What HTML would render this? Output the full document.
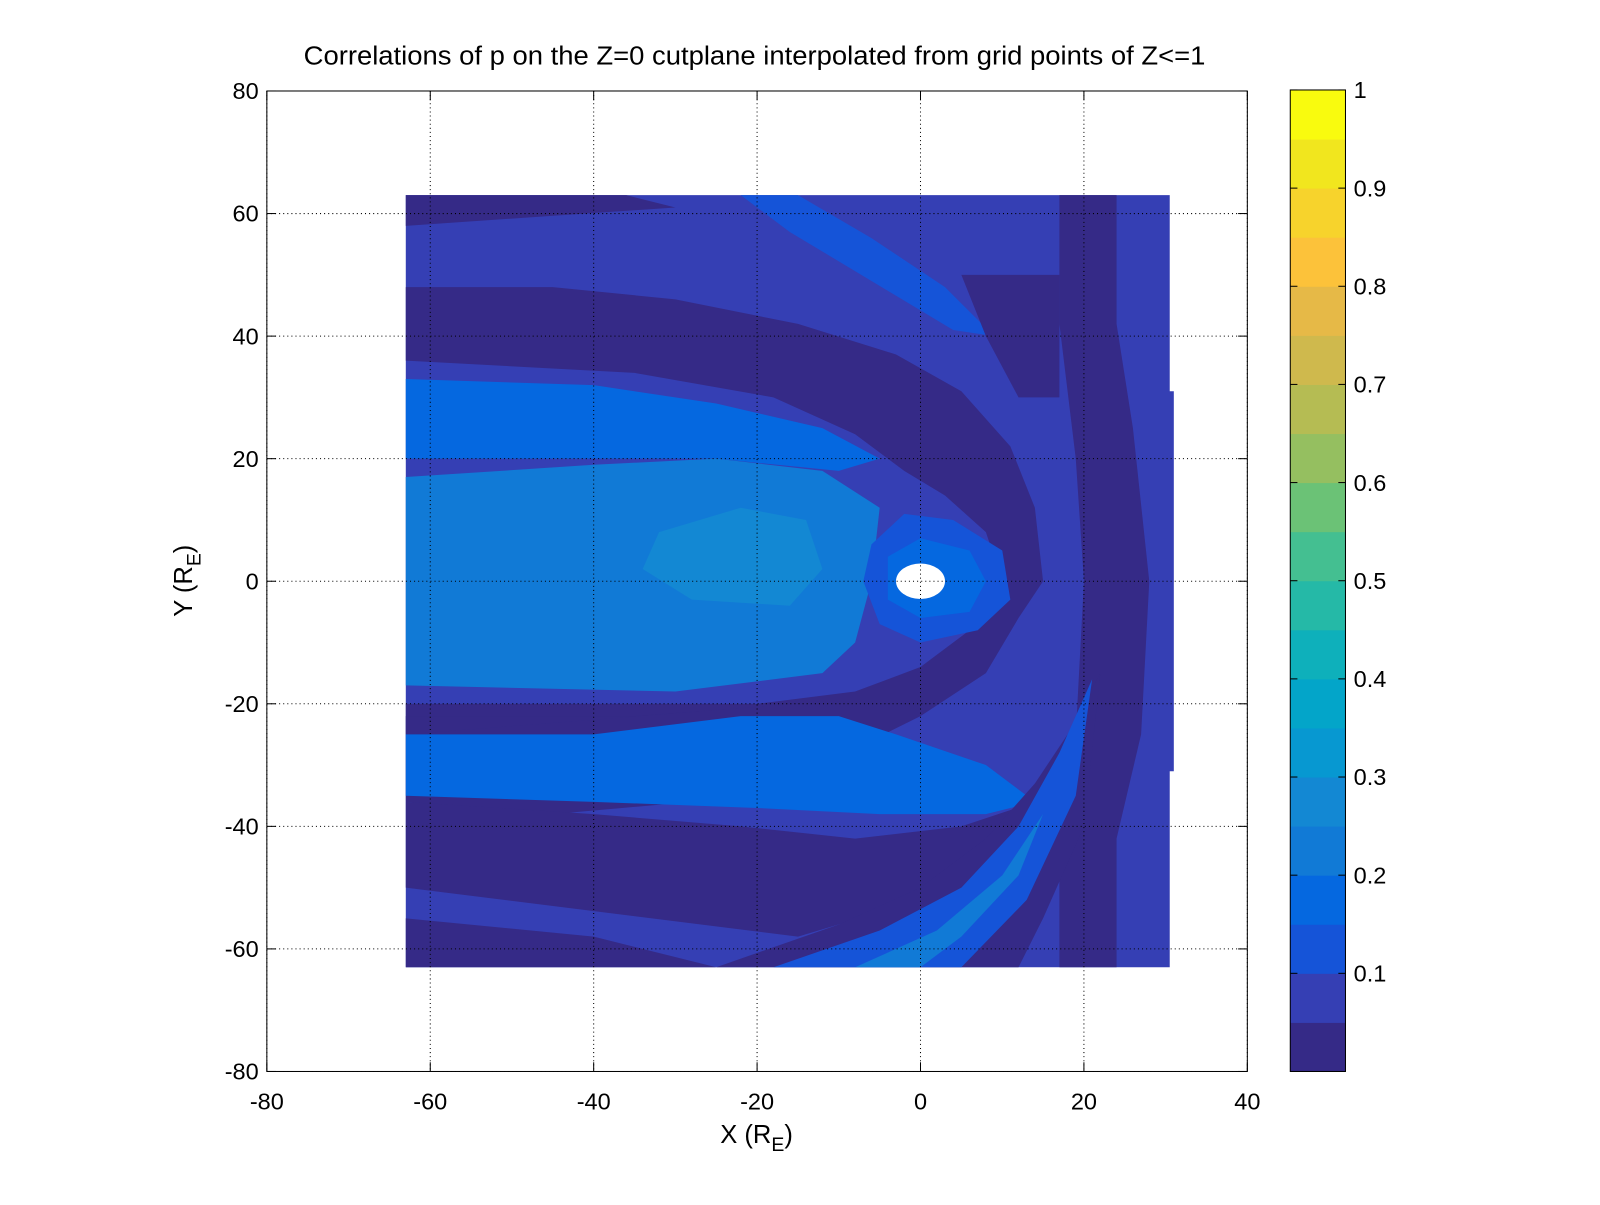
<!DOCTYPE html>
<html><head><meta charset="utf-8">
<style>
html,body{margin:0;padding:0;background:#fff;}
svg text{font-family:"Liberation Sans",sans-serif;fill:#000;}
</style></head>
<body>
<svg id="chart" width="1600" height="1200" viewBox="0 0 1600 1200" xmlns="http://www.w3.org/2000/svg">
<rect x="0" y="0" width="1600" height="1200" fill="#fff"/>
<g transform="scale(1.0224)">
<text x="738" y="63" font-size="25" text-anchor="middle" textLength="882" lengthAdjust="spacingAndGlyphs">Correlations of p on the Z=0 cutplane interpolated from grid points of Z&lt;=1</text>
<g id="plot"></g>
<g id="grid"></g>
<g id="axes"></g>
<g id="cbar"></g>
<text x="740" y="1118" font-size="25" text-anchor="middle">X (R<tspan font-size="19" dy="8">E</tspan><tspan dy="-8">)</tspan></text>
<text transform="translate(188,568) rotate(-90)" font-size="25" text-anchor="middle">Y (R<tspan font-size="19" dy="8">E</tspan><tspan dy="-8">)</tspan></text>
</g>
</svg>
<script>
const xTicks=[-80,-60,-40,-20,0,20,40];
const yTicks=[-80,-60,-40,-20,0,20,40,60,80];
const cbLevels=[0,0.05,0.1,0.15,0.2,0.25,0.3,0.35,0.4,0.45,0.5,0.55,0.6,0.65,0.7,0.75,0.8,0.85,0.9,0.95,1];
const cbColors=["#352a87","#353fb4","#1554d8","#0568e0","#117ad6","#1388d3","#0798d1","#03a5c9","#0eb0bb","#25b9a7","#44bf91","#6bc276","#95bf60","#b5bc53","#cfb94d","#e6b947","#fcc23a","#f7d32c","#f1e61e","#f9fb0e"];
const cbTicks=[0.1,0.2,0.3,0.4,0.5,0.6,0.7,0.8,0.9,1];
const regionLevels=[1,0,0,2,0,0,0,3,4,5,0,3,0,0,0,2,4,2,3];
const regionPolys=[
 [[-63,63],[30.5,63],[30.5,31],[31,31],[31,-31],[30.5,-31],[30.5,-63],[-63,-63]],
 [[-63,63],[-36,63],[-30,61],[-63,58]],
 [[-63,48],[-45,48],[-30,46],[-15,42],[-3,37],[5,31],[11,22],[14,12],[15,0],[10,0],[8,8],[3,14],[-2,18],[-8,24],[-18,30],[-35,34],[-63,36]],
 [[-22,63],[-15,63],[-6,56],[3,48],[9,40],[4,41],[-6,49],[-16,57]],
 [[17,63],[24,63],[24,42],[26,25],[28,0],[27,-25],[24,-42],[24,-63],[17,-63],[17,-45],[19,-25],[20,0],[19,20],[17,42]],
 [[5,50],[17,50],[17,30],[12,30],[8,40]],
 [[-63,-36],[-45,-38],[-28,-36],[-12,-30],[0,-22],[8,-15],[12,-6],[15,0],[10,0],[6,-8],[0,-14],[-8,-18],[-20,-20],[-40,-20],[-63,-20],[-63,-24],[-30,-24],[-63,-24]],
 [[-63,33],[-40,32],[-25,29],[-12,25],[-5,20],[-10,18],[-25,20],[-45,20],[-63,20]],
 [[-63,17],[-40,19],[-25,20],[-12,18],[-5,12],[-6,0],[-8,-10],[-12,-15],[-30,-18],[-63,-17]],
 [[-32,8],[-22,12],[-14,10],[-12,2],[-16,-4],[-28,-3],[-34,2]],
 [[-63,-22],[-35,-22],[-15,-20],[-63,-25]],
 [[-63,-25],[-40,-25],[-22,-22],[-10,-22],[-3,-25],[8,-30],[14,-36],[8,-38],[-5,-38],[-20,-37],[-40,-36],[-63,-35]],
 [[-63,-36],[-40,-38],[-22,-40],[-8,-42],[5,-40],[14,-36],[10,-45],[0,-52],[-15,-58],[-63,-50]],
 [[-63,-55],[-40,-58],[-25,-63],[-63,-63]],
 [[-25,-63],[-10,-56],[0,-50],[8,-42],[14,-33],[18,-25],[22,-15],[20,-40],[15,-55],[12,-63]],
 [[-18,-63],[-5,-57],[5,-50],[12,-40],[17,-28],[21,-16],[19,-35],[13,-52],[5,-63]],
 [[-8,-63],[2,-57],[10,-48],[15,-38],[12,-48],[5,-58],[0,-63]],
 [[-6,6],[-2,11],[4,10],[10,5],[11,-3],[7,-8],[0,-10],[-5,-7],[-7,0]],
 [[-4,4],[0,7],[6,5],[8,0],[6,-5],[0,-6],[-4,-3]]
];
const NS="http://www.w3.org/2000/svg";
const sx=x=>261+(x+80)*(959/120);
const sy=y=>89+(80-y)*(959/160);
const plot=document.getElementById('plot');
regionPolys.forEach((poly,i)=>{
 const p=document.createElementNS(NS,'polygon');
 p.setAttribute('points',poly.map(q=>sx(q[0]).toFixed(1)+','+sy(q[1]).toFixed(1)).join(' '));
 p.setAttribute('fill',cbColors[regionLevels[i]]);
 
 
 plot.appendChild(p);
});
const hole=document.createElementNS(NS,'ellipse');
hole.setAttribute('cx',sx(0));hole.setAttribute('cy',sy(0));
hole.setAttribute('rx',3*959/120);hole.setAttribute('ry',2.9*959/160);
hole.setAttribute('fill','#fff');


plot.appendChild(hole);
const grid=document.getElementById('grid'),axes=document.getElementById('axes');
function line(g,x1,y1,x2,y2,st,dash,name){const l=document.createElementNS(NS,'line');l.setAttribute('x1',x1);l.setAttribute('y1',y1);l.setAttribute('x2',x2);l.setAttribute('y2',y2);l.setAttribute('stroke',st);l.setAttribute('stroke-width',1);if(dash)l.setAttribute('stroke-dasharray',dash);


g.appendChild(l);}
function txt(g,x,y,s,anchor,name){const t=document.createElementNS(NS,'text');t.setAttribute('x',x);t.setAttribute('y',y);t.setAttribute('font-size','23');t.setAttribute('text-anchor',anchor);t.textContent=s;


g.appendChild(t);}
xTicks.forEach(v=>{const X=sx(v);line(grid,X,sy(80),X,sy(-80),'#000','1,3','x-grid-line');line(axes,X,sy(-80),X,sy(-80)-9,'#000',null,'x-tick');line(axes,X,sy(80),X,sy(80)+9,'#000',null,'x-tick');txt(axes,X,1085,String(v),'middle','x-tick-label');});
yTicks.forEach(v=>{const Y=sy(v);line(grid,sx(-80),Y,sx(40),Y,'#000','1,3','y-grid-line');line(axes,sx(-80),Y,sx(-80)+9,Y,'#000',null,'y-tick');line(axes,sx(40),Y,sx(40)-9,Y,'#000',null,'y-tick');txt(axes,253,Y+8,String(v),'end','y-tick-label');});
const box=document.createElementNS(NS,'rect');
box.setAttribute('x',sx(-80));box.setAttribute('y',sy(80));box.setAttribute('width',sx(40)-sx(-80));box.setAttribute('height',sy(-80)-sy(80));
box.setAttribute('fill','none');box.setAttribute('stroke','#000');


axes.appendChild(box);
const cb=document.getElementById('cbar');
const cy=v=>1048-v*960;
cbColors.forEach((c,i)=>{const r=document.createElementNS(NS,'rect');r.setAttribute('x',1262);r.setAttribute('y',cy(cbLevels[i+1]));r.setAttribute('width',54);r.setAttribute('height',cy(cbLevels[i])-cy(cbLevels[i+1])+0.5);r.setAttribute('fill',c);


cb.appendChild(r);});
cbTicks.forEach(v=>{const Y=cy(v);line(cb,1262,Y,1269,Y,'#000',null,'colorbar-tick');line(cb,1316,Y,1309,Y,'#000',null,'colorbar-tick');txt(cb,1324,Y+8,String(v),'start','colorbar-tick-label');});
const cbox=document.createElementNS(NS,'rect');
cbox.setAttribute('x',1262);cbox.setAttribute('y',88);cbox.setAttribute('width',54);cbox.setAttribute('height',960);cbox.setAttribute('fill','none');cbox.setAttribute('stroke','#000');


cb.appendChild(cbox);
</script>
</body></html>
